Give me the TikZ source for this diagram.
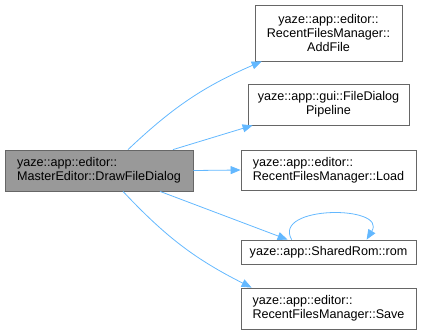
\documentclass[tikz,border=0pt]{standalone}
\usepackage{fontspec}
\setmainfont{Liberation Sans}
\usepackage{tikz}
\usetikzlibrary{arrows.meta}
\definecolor{call blue}{rgb}{0.3882, 0.7216, 1.0}
\definecolor{box gray}{rgb}{0.4, 0.4, 0.4}
\definecolor{fill gray}{rgb}{0.6, 0.6, 0.6}

\tikzset{
	fn/.style = {draw = box gray, line width = 0.8pt, inner sep = 0pt,
		font = \fontsize{12.6}{14}\selectfont, minimum height = 41pt},
	call/.style = {draw = call blue, line width = 0.8pt,
		-{Triangle[length = 10pt, width = 8pt]}}
}

\begin{document}
\begin{tikzpicture}[x = 1pt, y = 1pt]
		\useasboundingbox (0, 0) rectangle (422, -335);
		% caller
		\node[fn, fill = fill gray, align = left, minimum width = 188pt]
			(draw) at (99, -170.5)
			{yaze::app::editor::\\MasterEditor::DrawFileDialog};
		% callees
		\node[fn, align = center, minimum width = 147pt, minimum height = 56pt]
			(addfile) at (328.5, -33)
			{yaze::app::editor::\\RecentFilesManager::\\AddFile};
		\node[fn, align = center, minimum width = 161pt]
			(pipeline) at (328.5, -104.5)
			{yaze::app::gui::FileDialog\\Pipeline};
		\node[fn, align = left, minimum width = 175pt, minimum height = 40pt]
			(load) at (328.5, -170)
			{yaze::app::editor::\\RecentFilesManager::Load};
		\node[fn, minimum width = 175pt, minimum height = 24pt]
			(rom) at (328.5, -252)
			{yaze::app::SharedRom::rom};
		\node[fn, align = left, minimum width = 175pt]
			(save) at (328.5, -308.5)
			{yaze::app::editor::\\RecentFilesManager::Save};
		% calls
		\draw[call] ([xshift = 29pt]draw.north) to[bend left = 10]
			([xshift = 7pt]addfile.south west);
		\draw[call] ([xshift = 74pt]draw.north) --
			([xshift = 5pt]pipeline.south west);
		\draw[call] (draw.east) -- (load.west);
		\draw[call] ([xshift = 61pt]draw.south) --
			([xshift = 47pt]rom.north west);
		\draw[call] ([xshift = 24pt]draw.south) to[bend right = 10]
			([xshift = 11pt]save.north west);
		% recursion
		\draw[call] ([xshift = 51pt]rom.north west) .. controls (272, -205)
			and (388, -205) .. ([xshift = 126pt]rom.north west);
	\end{tikzpicture}
\end{document}
